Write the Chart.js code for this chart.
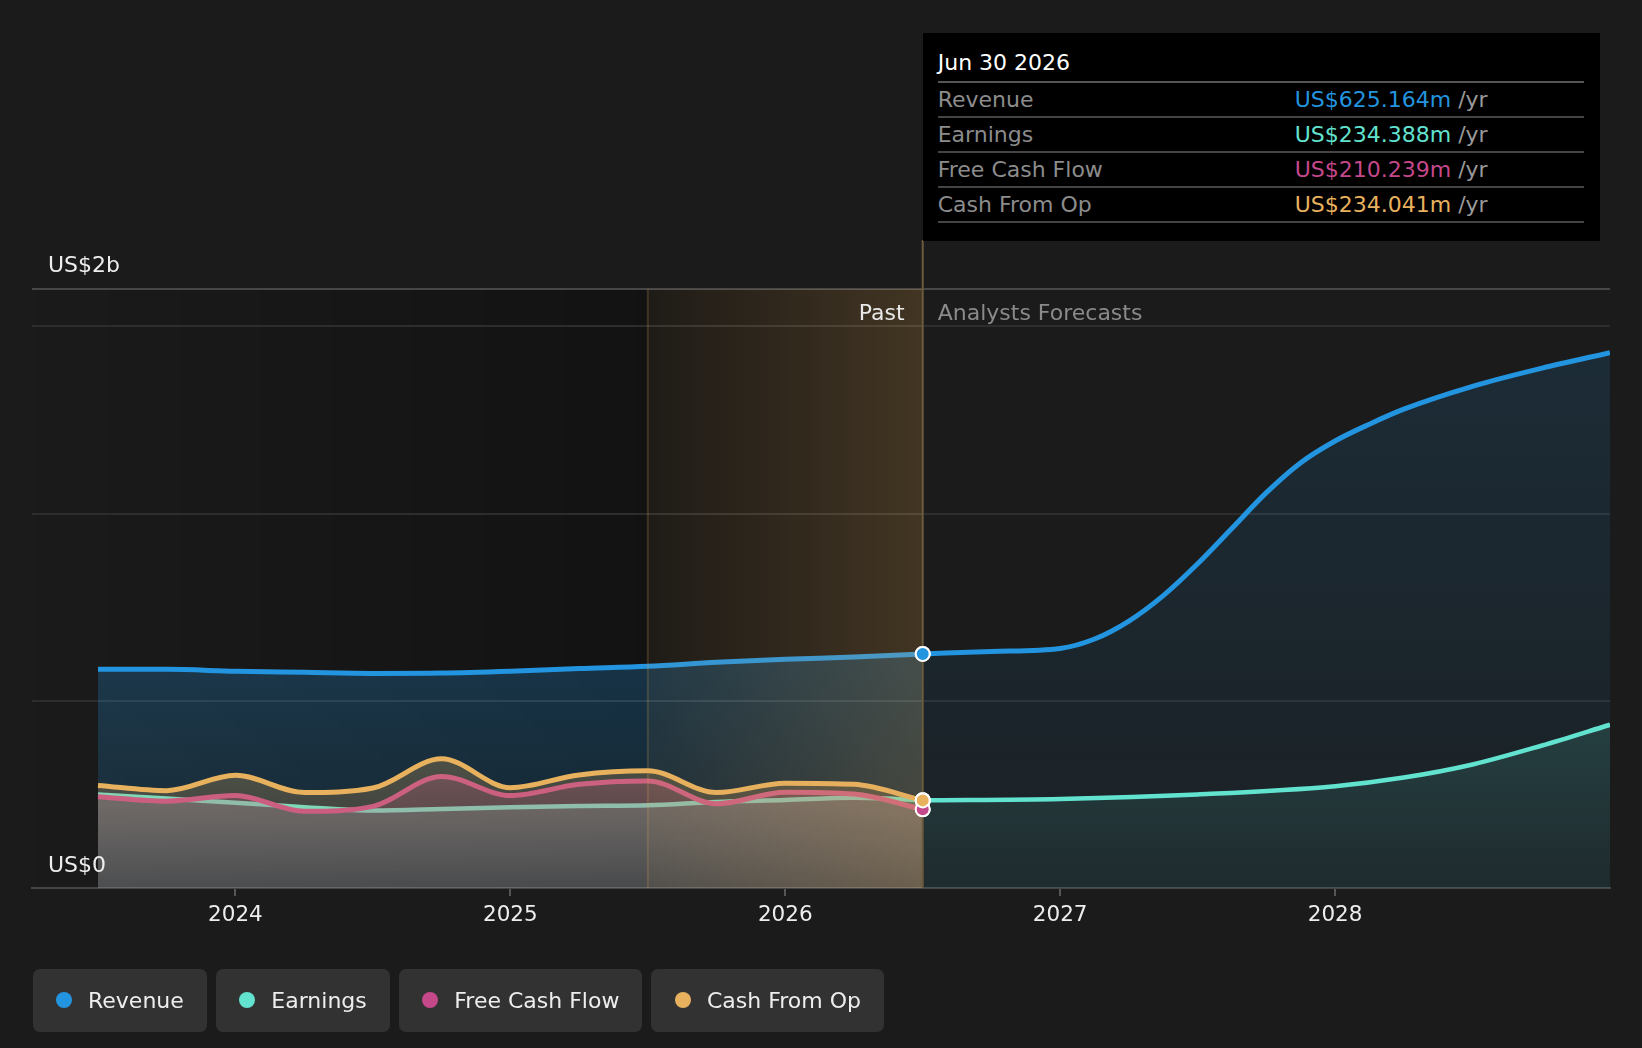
<!DOCTYPE html>
<html><head><meta charset="utf-8">
<script src="https://cdn.jsdelivr.net/npm/chart.js@4.4.1/dist/chart.umd.min.js"></script>
<style>
html,body{margin:0;padding:0;background:#1b1b1b;}
body{width:1642px;height:1048px;position:relative;overflow:hidden;font-family:"DejaVu Sans",sans-serif;}
#c{position:absolute;left:0;top:0;}
.lbl{position:absolute;font-size:22px;line-height:24px;white-space:nowrap;}
#tip{position:absolute;top:32.5px;height:208px;background:#000;box-sizing:border-box;padding:0 16px 0 15px;font-size:22px;}
.tt-title{height:37px;padding-top:11px;line-height:38px;color:#fff;}
.tt-row{height:33px;border-top:2px solid #444;line-height:33px;display:flex;white-space:nowrap;}
.tt-row.first{border-top-color:#555;}
.tt-row.last{border-bottom:2px solid #444;}
.tt-k{width:357px;color:#8c8c8c;}
.tt-u{color:#999;}
#legend{position:absolute;left:32.5px;top:968.5px;display:flex;gap:9px;}
.li{height:63px;background:#323232;border-radius:7px;display:flex;align-items:center;padding:0 23px 0 23.5px;font-size:22px;color:#eee;white-space:nowrap;}
.dot{width:16px;height:16px;border-radius:50%;margin-right:16px;}
</style>
</head>
<body>
<canvas id="c" width="1642" height="1048"></canvas>
<div id="tip"></div>
<div id="legend"></div>
<div class="lbl" id="y2b" style="color:#eee">US$2b</div>
<div class="lbl" id="y0" style="color:#eee">US$0</div>
<div class="lbl" id="pastLbl" style="color:#e8e8e8">Past</div>
<div class="lbl" id="fcLbl" style="color:#8a8a8a">Analysts Forecasts</div>
<script>
// ---- data (US$ millions, x in decimal years) ----
const seriesNames = ["Revenue", "Earnings", "Free Cash Flow", "Cash From Op"];
const seriesColors = ["#2394df", "#62e3cf", "#c4488a", "#e8b15e"];
const seriesRGB = ["35,148,223", "98,227,207", "196,72,138", "232,177,94"];

const pastDates = [2023.5, 2023.75, 2024.0, 2024.25, 2024.5, 2024.75, 2025.0, 2025.25, 2025.5, 2025.75, 2026.0, 2026.25, 2026.5];
const revenuePast  = [584, 584, 579, 576, 573, 574, 579, 586, 592, 603, 611, 617, 625.164];
const earningsPast = [250, 239, 228, 216, 207, 211, 216, 219, 221, 230, 235, 241, 234.388];
const fcfPast      = [244, 232, 247, 205, 218, 298, 247, 277, 286, 225, 256, 251, 210.239];
const cfoPast      = [274, 260, 301, 255, 267, 345, 268, 302, 313, 255, 280, 277, 234.041];

const revenueForecastDates = [2026.5, 2026.75, 2027.0, 2027.125, 2027.25, 2027.375, 2027.5, 2027.625, 2027.75, 2027.875, 2028.0, 2028.125, 2028.25, 2028.5, 2028.75, 2029.0];
const revenueForecast      = [625.164, 632, 640, 665, 713, 781, 866, 961, 1056, 1136, 1194, 1239, 1279, 1340, 1388, 1430];
const earningsForecastDates = [2026.5, 2027.0, 2027.5, 2028.0, 2028.25, 2028.5, 2028.75, 2029.0];
const earningsForecast      = [234.388, 238, 250, 272, 295, 330, 380, 436];

const yearTicks = [2024, 2025, 2026, 2027, 2028];
const yGridValues = [0, 500, 1000, 1500, 1600];
const X_MIN = 2023.26, X_MAX = 2029.0, Y_MAX = 1600;
const BAND_START = 2025.5, PAST_END = 2026.5;
const tooltipTitle = "Jun 30 2026";

// ---- helpers ----
const pts = (xs, ys) => xs.map((x, i) => ({x: x, y: ys[i]}));
function fillGrad(rgb, aTop, aBot) {
  return (ctx) => {
    const chart = ctx.chart, ca = chart.chartArea;
    if (!ca || !chart.scales.y) return `rgba(${rgb},${aTop})`;
    const ds = chart.data.datasets[ctx.datasetIndex];
    const maxV = Math.max(...ds.data.map(p => p.y));
    const top = chart.scales.y.getPixelForValue(maxV);
    const g = chart.ctx.createLinearGradient(0, top, 0, ca.bottom);
    g.addColorStop(0, `rgba(${rgb},${aTop})`);
    g.addColorStop(1, `rgba(${rgb},${aBot})`);
    return g;
  };
}
const lastIdx = pastDates.length - 1;
function pastDs(i, values, order, width) {
  return {
    label: seriesNames[i], data: pts(pastDates, values), order: order, past: true,
    borderColor: seriesColors[i], borderWidth: width,
    backgroundColor: fillGrad(seriesRGB[i], 0.26, 0.12), fill: 'origin',
    cubicInterpolationMode: 'monotone',
    pointRadius: c => c.dataIndex === lastIdx ? 7 : 0,
    pointBackgroundColor: seriesColors[i], pointBorderColor: '#ffffff', pointBorderWidth: 2
  };
}
function fcDs(i, xs, values, order, width) {
  return {
    label: seriesNames[i] + ' forecast', data: pts(xs, values), order: order,
    borderColor: seriesColors[i], borderWidth: width,
    backgroundColor: fillGrad(seriesRGB[i], 0.14, 0.05), fill: 'origin',
    cubicInterpolationMode: 'monotone', pointRadius: 0
  };
}

const bgPlugin = {
  id: 'bg',
  beforeDraw(chart) {
    const {ctx, chartArea: ca, scales: {x}} = chart;
    const bx = x.getPixelForValue(BAND_START), px = x.getPixelForValue(PAST_END);
    ctx.save();
    const g = ctx.createLinearGradient(ca.left, 0, bx, 0);
    g.addColorStop(0, 'rgba(0,0,0,0)');
    g.addColorStop(1, 'rgba(0,0,0,0.3)');
    ctx.fillStyle = g;
    ctx.fillRect(ca.left, ca.top, bx - ca.left, ca.bottom - ca.top);
    ctx.fillStyle = 'rgba(0,0,0,0.3)';
    ctx.fillRect(bx, ca.top, px - bx, ca.bottom - ca.top);
    ctx.restore();
  },
  afterDatasetsDraw(chart) {
    const {ctx, chartArea: ca, scales: {x}} = chart;
    const bx = x.getPixelForValue(BAND_START), px = x.getPixelForValue(PAST_END);
    ctx.save();
    const g = ctx.createLinearGradient(bx, 0, px, 0);
    g.addColorStop(0, 'rgba(225,168,90,0.06)');
    g.addColorStop(1, 'rgba(225,168,90,0.23)');
    ctx.fillStyle = g;
    ctx.fillRect(bx, ca.top, px - bx, ca.bottom - ca.top);
    ctx.strokeStyle = 'rgba(225,168,90,0.2)';
    ctx.lineWidth = 2;
    ctx.beginPath(); ctx.moveTo(bx, ca.top); ctx.lineTo(bx, ca.bottom); ctx.stroke();
    ctx.strokeStyle = '#6b5a3b';
    ctx.beginPath(); ctx.moveTo(px, 240); ctx.lineTo(px, ca.bottom); ctx.stroke();
    ctx.restore();
    // redraw end points above the band (Cash From Op last, on top)
    const pastIdx = chart.data.datasets.map((d, i) => d.past ? i : -1).filter(i => i >= 0)
      .sort((a, b) => chart.data.datasets[b].order - chart.data.datasets[a].order);
    pastIdx.forEach(i => {
      const el = chart.getDatasetMeta(i).data[lastIdx];
      if (el) el.draw(ctx, ca);
    });
  }
};

const chart = new Chart(document.getElementById('c'), {
  type: 'line',
  data: {
    datasets: [
      pastDs(3, cfoPast, 0, 5),
      pastDs(2, fcfPast, 1, 5),
      pastDs(1, earningsPast, 2, 4.5),
      pastDs(0, revenuePast, 3, 5),
      fcDs(1, earningsForecastDates, earningsForecast, 4, 4.5),
      fcDs(0, revenueForecastDates, revenueForecast, 5, 5)
    ]
  },
  options: {
    responsive: false, animation: false, events: [],
    devicePixelRatio: 1,
    layout: {padding: {left: 32, right: 32, top: 289, bottom: 0}},
    plugins: {legend: {display: false}, tooltip: {enabled: false}},
    scales: {
      x: {
        type: 'linear', min: X_MIN, max: X_MAX,
        afterBuildTicks: s => { s.ticks = yearTicks.map(v => ({value: v})); },
        afterFit: s => { s.height = 160; },
        ticks: {color: '#eeeeee', font: {family: 'DejaVu Sans', size: 21.5}, padding: 7, callback: v => String(v), maxRotation: 0, autoSkip: false},
        grid: {drawOnChartArea: false, drawTicks: true, tickLength: 8, color: '#555555', lineWidth: 2},
        border: {display: true, color: '#454545', width: 2}
      },
      y: {
        type: 'linear', min: 0, max: Y_MAX,
        afterBuildTicks: s => { s.ticks = yGridValues.map(v => ({value: v})); },
        afterFit: s => { s.width = 0; },
        ticks: {display: false},
        grid: {drawTicks: false, lineWidth: 2,
          color: c => c.tick.value === Y_MAX ? '#474747' : (c.tick.value === 0 ? 'rgba(0,0,0,0)' : '#2d2d2d')},
        border: {display: false}
      }
    }
  },
  plugins: [bgPlugin]
});

// ---- HTML overlays (tooltip, labels, legend) ----
const ca = chart.chartArea;
const px = chart.scales.x.getPixelForValue(PAST_END);
const lastVals = [revenuePast[lastIdx], earningsPast[lastIdx], fcfPast[lastIdx], cfoPast[lastIdx]];
const tip = document.getElementById('tip');
tip.style.left = px + 'px';
tip.style.width = (ca.right - 10 - px) + 'px';
let html = `<div class="tt-title">${tooltipTitle}</div>`;
seriesNames.forEach((n, i) => {
  const cls = 'tt-row' + (i === 0 ? ' first' : '') + (i === seriesNames.length - 1 ? ' last' : '');
  html += `<div class="${cls}"><span class="tt-k">${n}</span><span style="color:${seriesColors[i]}">US$${lastVals[i].toFixed(3)}m</span><span class="tt-u">&nbsp;/yr</span></div>`;
});
tip.innerHTML = html;

const lg = document.getElementById('legend');
lg.innerHTML = seriesNames.map((n, i) => `<div class="li"><span class="dot" style="background:${seriesColors[i]}"></span>${n}</div>`).join('');

const y2b = document.getElementById('y2b');
y2b.style.left = (ca.left + 16) + 'px'; y2b.style.top = (ca.top - 36) + 'px';
const y0 = document.getElementById('y0');
y0.style.left = (ca.left + 16) + 'px'; y0.style.top = (ca.bottom - 35) + 'px';
const pl = document.getElementById('pastLbl');
pl.style.left = (px - 18) + 'px'; pl.style.top = (ca.top + 12) + 'px'; pl.style.transform = 'translateX(-100%)';
const fl = document.getElementById('fcLbl');
fl.style.left = (px + 15) + 'px'; fl.style.top = (ca.top + 12) + 'px';
</script>
</body></html>
